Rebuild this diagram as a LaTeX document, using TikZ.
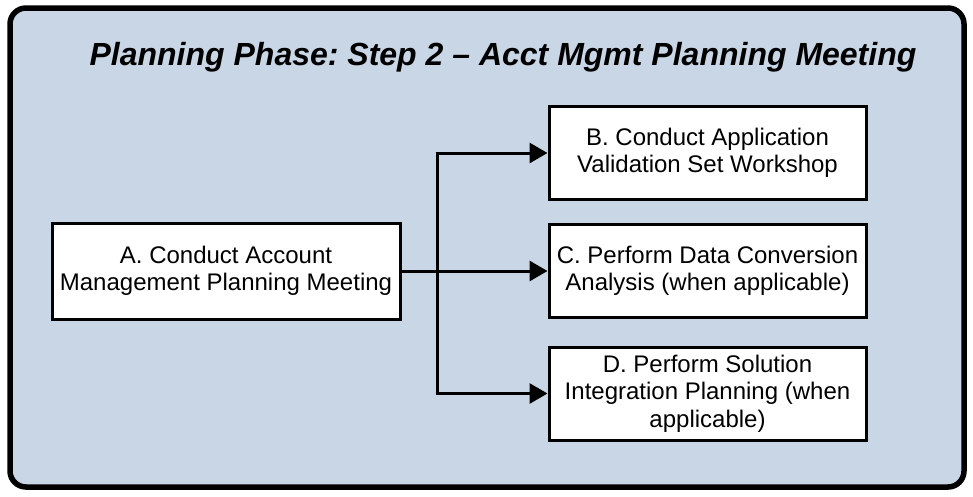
\documentclass[tikz,border=0pt]{standalone}
\usepackage{fontspec}
\setmainfont{Liberation Sans}
\usetikzlibrary{arrows.meta}
\definecolor{panelfill}{HTML}{C9D6E5}
\frenchspacing
\tikzset{
  stepbox/.style={draw=black, line width=3pt, fill=white, minimum height=93pt,
    align=center, font=\fontsize{24}{27.5}\selectfont, inner sep=3pt},
  flow/.style={draw=black, line width=3pt, -{Triangle[length=18pt,width=20pt]}},
  link/.style={draw=black, line width=3pt}
}
\begin{document}
\begin{tikzpicture}[x=1pt,y=-1pt]
  \useasboundingbox (0,0) rectangle (973,496);
  % outer panel
  \draw[line width=5.5pt, fill=panelfill, rounded corners=16pt] (10,8) rectangle (964,487);
  \node[font=\fontsize{32}{36}\selectfont\bfseries\itshape] (title) at (503,57)
    {Planning Phase: Step 2 -- Acct Mgmt Planning Meeting};
  % process boxes
  \node[stepbox, minimum width=348pt, minimum height=96pt] (a) at (226,271)
    {A. Conduct Account\\Management Planning Meeting};
  \node[stepbox, minimum width=317pt] (b) at (707.5,153)
    {B. Conduct Application\\Validation Set Workshop};
  \node[stepbox, minimum width=317pt] (c) at (707.5,271)
    {C. Perform Data Conversion\\Analysis (when applicable)};
  \node[stepbox, minimum width=317pt] (d) at (707.5,393.5)
    {D. Perform Solution\\Integration Planning (when\\applicable)};
  % branching connectors
  \coordinate (split) at (437,271);
  \draw[flow] (a.east) -- (c.west);
  \draw[link] (split |- b.west) -- (split |- d.west);
  \draw[flow] ([xshift=-1.5pt]split |- b.west) -- (b.west);
  \draw[flow] ([xshift=-1.5pt]split |- d.west) -- (d.west);
\end{tikzpicture}
\end{document}
